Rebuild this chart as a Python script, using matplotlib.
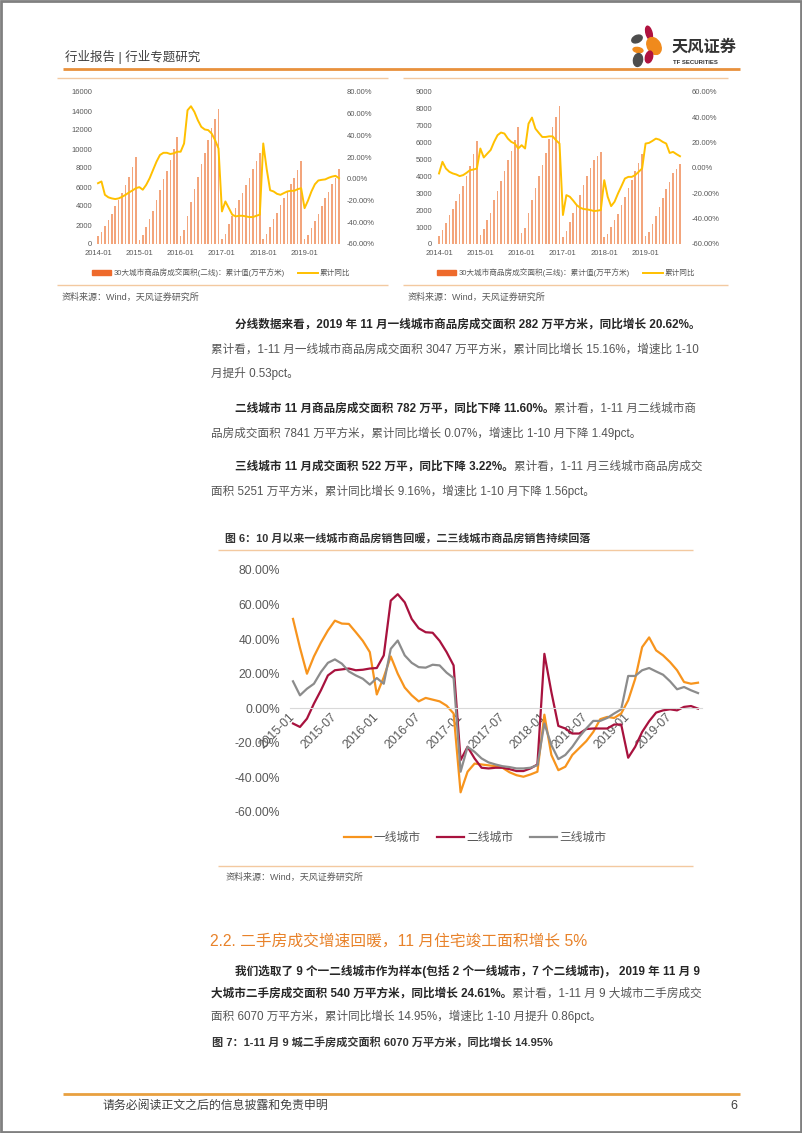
import matplotlib
matplotlib.use('Agg')
import matplotlib.pyplot as plt
from matplotlib.patches import Ellipse, Patch
from matplotlib.lines import Line2D
import numpy as np

plt.rcParams['font.family'] = ['Liberation Sans', 'Noto Sans CJK SC', 'DejaVu Sans']

# ---- data: top-left chart (二线, 2014-01 .. 2019-11)
tl_bars = [800, 1300, 1900, 2500, 3200, 4000, 4600, 5400, 6200, 7100, 8100, 9200,
           400, 1000, 1800, 2600, 3500, 4600, 5700, 6800, 7700, 8800, 10000, 11300,
           800, 1500, 3000, 4400, 5800, 7100, 8400, 9600, 10900, 12200, 13200, 14200,
           500, 1100, 2100, 2900, 3800, 4600, 5400, 6200, 7000, 7900, 8700, 9600,
           500, 1100, 1800, 2600, 3300, 4100, 4800, 5600, 6300, 7000, 7800, 8700,
           500, 1000, 1700, 2400, 3200, 4000, 4800, 5500, 6300, 7000, 7900]
tl_yoy = [-4, -2.4, -14.7, -17, -18, -18.6, -18, -16.5, -14.7, -12.5, -10.7, -8.6,
          -7.6, -10, -5.5, 0.6, 8.3, 15.9, 22, 24, 24, 22.9, 23.5, 25,
          25, 32.6, 63.2, 66.9, 61.7, 54, 47.9, 45.5, 44.9, 41.8, 35.7, 28,
          -30, -20.8, -26.9, -33, -34.6, -34, -34, -34.6, -35.2, -35.2, -34, -33,
          32.6, 9, -10.5, -11.6, -13.8, -14.7, -13.1, -11.6, -11, -11, -9.5, -8.6,
          -27, -20, -11.6, -5, -1.5, -0.9, -0.5, 1.0, 2.1, 2.8, 0.6]

# ---- data: top-right chart (三线)
tr_bars = [450, 850, 1250, 1700, 2100, 2550, 2950, 3450, 4050, 4600, 5300, 6100,
           550, 900, 1400, 1850, 2600, 3150, 3750, 4350, 4950, 5500, 6150, 6950,
           650, 950, 1850, 2600, 3300, 4000, 4700, 5400, 6200, 6900, 7500, 8150,
           400, 750, 1300, 1850, 2350, 2900, 3500, 4000, 4500, 4950, 5200, 5450,
           400, 600, 1000, 1400, 1800, 2300, 2800, 3300, 3800, 4300, 4800, 5300,
           450, 700, 1200, 1650, 2200, 2750, 3250, 3700, 4200, 4450, 4750]
tr_yoy = [-4.3, 4.9, -0.4, -3, -4.3, -5.1, -6.4, -5.6, -3.8, -1.7, -1.2, -0.4,
          15.4, 8.3, 11.3, 14.2, 20.6, 25.9, 28, 27.2, 23.2, 20.6, 19.3, 15.4,
          18, 15.4, 35, 39.8, 31.1, 27.7, 24.5, 24.5, 25, 25, 21.9, 19.3,
          -37.1, -21.4, -22.7, -25.8, -29.3, -31.4, -32.4, -32.7, -33.2, -34, -33.7, -33.2,
          -9.6, -22.7, -30.1, -26.6, -20.1, -14.3, -8.3, -7, -7, -5.6, -3, -0.4,
          19.3, 19.8, 21.4, 23.2, 22.4, 20.6, 19.3, 11.9, 12.7, 10.9, 9.3]
small_ticks = ['2014-01', '2015-01', '2016-01', '2017-01', '2018-01', '2019-01']

# ---- data: main chart (2015-01 .. 2019-11, %)
main_ticks = ['2015-01', '2015-07', '2016-01', '2016-07', '2017-01', '2017-07',
              '2018-01', '2018-07', '2019-01', '2019-07']
tier1 = [51.7, 35, 20, 30, 38, 45, 50.7, 49, 48.8, 44, 39, 32.5,
         8, 18, 30, 20, 12, 7.5, 4, 6, 5, 4, 1.5, -3,
         -48.6, -36.7, -32, -32.5, -33, -33.5, -34.4, -37, -38.7, -39.6, -38.3, -36.7,
         -3.7, -27, -35.8, -33.8, -27, -23, -19, -13.7, -6.3, -5, -5.6, -3,
         4.6, 17, 35.4, 41, 33.5, 30.6, 26.7, 22, 15.2, 14.2, 14.8]
tier2 = [-8.8, -10.8, -6, 2.7, 10.4, 19, 22, 22.5, 23, 22, 22.3, 23,
         23.3, 30.6, 62.3, 66, 61.3, 51.7, 46.3, 44, 43.7, 39, 32.5, 24.8,
         -30, -22.3, -29, -34.4, -34.8, -34.4, -34.4, -35.2, -36.3, -36.3, -34.8, -32.5,
         31.5, 9.4, -10.2, -11.7, -14.6, -14.6, -12, -11.7, -11.7, -11.7, -9.4, -9.4,
         -28.6, -22.3, -13.7, -7.5, -2.5, -1.2, -0.6, -1.2, 0.8, 1.3, -0.2]
tier3 = [15.6, 7.5, 11.3, 14.2, 21, 26.3, 28.3, 25.8, 21.3, 19, 17.1, 13.7,
         17.5, 14.2, 34.4, 39.2, 30.6, 26.3, 23.8, 23.5, 25.2, 24.8, 20.6, 17.5,
         -36.7, -22.3, -25.2, -29, -31.3, -32.5, -33.5, -34, -34.8, -34.8, -34.4, -32.9,
         -8.8, -21.3, -29.4, -27, -22.3, -16.5, -11.7, -7.3, -7.3, -5.6, -3, -0.6,
         18.7, 18.7, 22, 23.3, 21.3, 19.4, 15.6, 11, 12.3, 10.4, 8.8]

W, H = 802, 1133
ORANGE = '#E9954A'
GRAY = '#595959'
BODY = 8.35

fig = plt.figure(figsize=(W / 100, H / 100), dpi=100)
page = fig.add_axes([0, 0, 1, 1])
page.set_xlim(0, W)
page.set_ylim(H, 0)
page.axis('off')
renderer = fig.canvas.get_renderer()


def px_axes(x0, y0, x1, y1):
    return fig.add_axes([x0 / W, 1 - y1 / H, (x1 - x0) / W, (y1 - y0) / H])


def hline(y, x0, x1, color=ORANGE, lw=1.0):
    page.plot([x0, x1], [y, y], color=color, lw=lw, solid_capstyle='butt')


def put_parts(x, y, parts, size=BODY):
    for s, bold in parts:
        t = page.text(x, y, s, fontsize=size, fontweight='bold' if bold else 'normal',
                      color='#262626' if bold else '#555555', va='center', ha='left')
        x += t.get_window_extent(renderer).width


# page border
page.add_patch(plt.Rectangle((1, 1), W - 2, H - 2, fill=False, ec='#808080', lw=2))

# header + logo
page.text(65, 57, '行业报告 | 行业专题研究', fontsize=9, color='#404040', va='center')
for (cx, cy, w, h, ang, c) in [(649, 33, 6, 14, -15, '#B0123F'), (637, 39, 11, 7, -25, '#4D4D4D'),
                               (654, 46, 13, 18, -30, '#F08A1C'), (638, 50, 10, 5, 10, '#F08A1C'),
                               (649, 57, 7, 12, 15, '#B0123F'), (638, 60, 9, 13, 10, '#4D4D4D')]:
    page.add_patch(Ellipse((cx, cy), w, h, angle=ang, color=c))
page.text(672, 47, '天风证券', fontsize=11.7, fontweight='bold', color='#333333', va='center')
page.text(673, 62, 'TF SECURITIES', fontsize=4.3, fontweight='bold', color='#333333', va='center')
hline(69, 63, 740, color='#E8913C', lw=2)

# top charts frames
for x0, x1 in [(57, 388), (403, 728)]:
    hline(78, x0, x1, color='#F3C9A0', lw=1)
    hline(285, x0, x1, color='#F3C9A0', lw=1)
page.text(62, 297, '资料来源：Wind，天风证券研究所', fontsize=6.5, color=GRAY, va='center')
page.text(408, 297, '资料来源：Wind，天风证券研究所', fontsize=6.5, color=GRAY, va='center')


def small_chart(x0, x1, bars, yoy, lmax, lstep, rmin, rmax, label, lcx, lpad, rpad):
    idx = np.arange(len(bars))
    ax = px_axes(x0, 92, x1, 244)
    ax.bar(idx, bars, width=0.45, color='#F3A57C')
    ax.set_xlim(-0.5, 70.5)
    ax.set_ylim(0, lmax)
    ax.set_yticks(np.arange(0, lmax + 1, lstep))
    ax.set_xticks(np.arange(0, 61, 12))
    ax.set_xticklabels(small_ticks)
    ax.tick_params(length=0, labelsize=5.5, labelcolor=GRAY)
    ax.tick_params(axis='y', pad=lpad)
    ax.tick_params(axis='x', pad=4)
    ax2 = ax.twinx()
    ax2.plot(idx, yoy, color='#FFC000', lw=1.4)
    ax2.set_ylim(rmin, rmax)
    ax2.set_yticks(np.arange(rmin, rmax + 1, 20))
    ax2.set_yticklabels(['%.2f%%' % v for v in np.arange(rmin, rmax + 1, 20)])
    ax2.tick_params(length=0, labelsize=5.5, labelcolor=GRAY, pad=rpad)
    for a in (ax, ax2):
        for s in a.spines.values():
            s.set_visible(False)
    handles = [Patch(color='#EE6A2C'), Line2D([], [], color='#FFC000', lw=1.4)]
    fig.legend(handles, [label, '累计同比'], ncol=2, loc='center',
               bbox_to_anchor=(lcx / W, 1 - 273 / H), frameon=False, fontsize=5.5,
               handlelength=2.6, handleheight=0.7, handletextpad=0.3, columnspacing=1.7,
               labelcolor=GRAY)


small_chart(96.3, 340.7, tl_bars, tl_yoy, 16000, 2000, -60, 80,
            '30大城市商品房成交面积(二线)：累计值(万平方米)', 221, 3, 4.5)
small_chart(437.3, 681.7, tr_bars, tr_yoy, 9000, 1000, -60, 60,
            '30大城市商品房成交面积(三线)：累计值(万平方米)', 566, 3.8, 7.4)

# body text
put_parts(235, 325, [('分线数据来看，2019 年 11 月一线城市商品房成交面积 282 万平方米，同比增长 20.62%。', True)])
put_parts(211, 350, [('累计看，1-11 月一线城市商品房成交面积 3047 万平方米，累计同比增长 15.16%，增速比 1-10', False)])
put_parts(211, 374, [('月提升 0.53pct。', False)])
put_parts(235, 409, [('二线城市 11 月商品房成交面积 782 万平，同比下降 11.60%。', True),
                     ('累计看，1-11 月二线城市商', False)])
put_parts(211, 433, [('品房成交面积 7841 万平方米，累计同比增长 0.07%，增速比 1-10 月下降 1.49pct。', False)])
put_parts(235, 467, [('三线城市 11 月成交面积 522 万平，同比下降 3.22%。', True),
                     ('累计看，1-11 月三线城市商品房成交', False)])
put_parts(211, 491, [('面积 5251 万平方米，累计同比增长 9.16%，增速比 1-10 月下降 1.56pct。', False)])

# figure 6 caption
page.text(225, 538, '图 6：10 月以来一线城市商品房销售回暖，二三线城市商品房销售持续回落',
          fontsize=7.9, fontweight='bold', color='#333333', va='center')
hline(550, 218, 693, color='#F3C9A0', lw=1)

# main chart
ax = px_axes(289.5, 570, 701.5, 812)
x = np.arange(len(tier1))
ax.plot(x, tier1, color='#F7941D', lw=1.6, label='一线城市')
ax.plot(x, tier2, color='#A8123E', lw=1.6, label='二线城市')
ax.plot(x, tier3, color='#8C8C8C', lw=1.6, label='三线城市')
ax.set_xlim(-0.5, len(tier1) - 0.5)
ax.set_ylim(-60, 80)
ax.set_yticks(np.arange(-60, 81, 20))
ax.set_yticklabels(['%.2f%%' % v for v in np.arange(-60, 81, 20)])
ax.set_xticks(np.arange(0, len(tier1), 6))
ax.set_xticklabels(main_ticks)
for s in ('top', 'right', 'left'):
    ax.spines[s].set_visible(False)
ax.spines['bottom'].set_position(('data', 0))
ax.spines['bottom'].set_color('#D9D9D9')
ax.spines['bottom'].set_linewidth(0.8)
ax.tick_params(length=0, labelsize=8.7, labelcolor=GRAY)
ax.tick_params(axis='y', pad=6.8)
ax.tick_params(axis='x', pad=5, labelrotation=45)
for lab in ax.get_xticklabels():
    lab.set_ha('right')
    lab.set_va('center')
    lab.set_rotation_mode('anchor')
ax.legend(ncol=3, loc='center', bbox_to_anchor=(475 / W, 1 - 838 / H),
          bbox_transform=fig.transFigure, frameon=False, fontsize=8.5,
          handlelength=2.3, handletextpad=0.2, columnspacing=1.4, labelcolor=GRAY)

hline(866, 218, 693, color='#F3C9A0', lw=1)
page.text(226, 877, '资料来源：Wind，天风证券研究所', fontsize=6.5, color=GRAY, va='center')

# section 2.2
page.text(210, 941, '2.2. 二手房成交增速回暖，11 月住宅竣工面积增长 5%', fontsize=11.3,
          color='#E8822A', va='center')
put_parts(235, 971, [('我们选取了 9 个一二线城市作为样本(包括 2 个一线城市，7 个二线城市)， 2019 年 11 月 9', True)])
put_parts(211, 994, [('大城市二手房成交面积 540 万平方米，同比增长 24.61%。', True),
                     ('累计看，1-11 月 9 大城市二手房成交', False)])
put_parts(211, 1016, [('面积 6070 万平方米，累计同比增长 14.95%，增速比 1-10 月提升 0.86pct。', False)])
page.text(212, 1043, '图 7：1-11 月 9 城二手房成交面积 6070 万平方米，同比增长 14.95%',
          fontsize=8, fontweight='bold', color='#333333', va='center')

# footer
hline(1094, 63, 740, color='#E8A040', lw=2)
page.text(103, 1106, '请务必阅读正文之后的信息披露和免责申明', fontsize=8.6, color='#404040', va='center')
page.text(737, 1106, '6', fontsize=9, color='#404040', va='center', ha='right')

fig.savefig('out.png', dpi=100)
